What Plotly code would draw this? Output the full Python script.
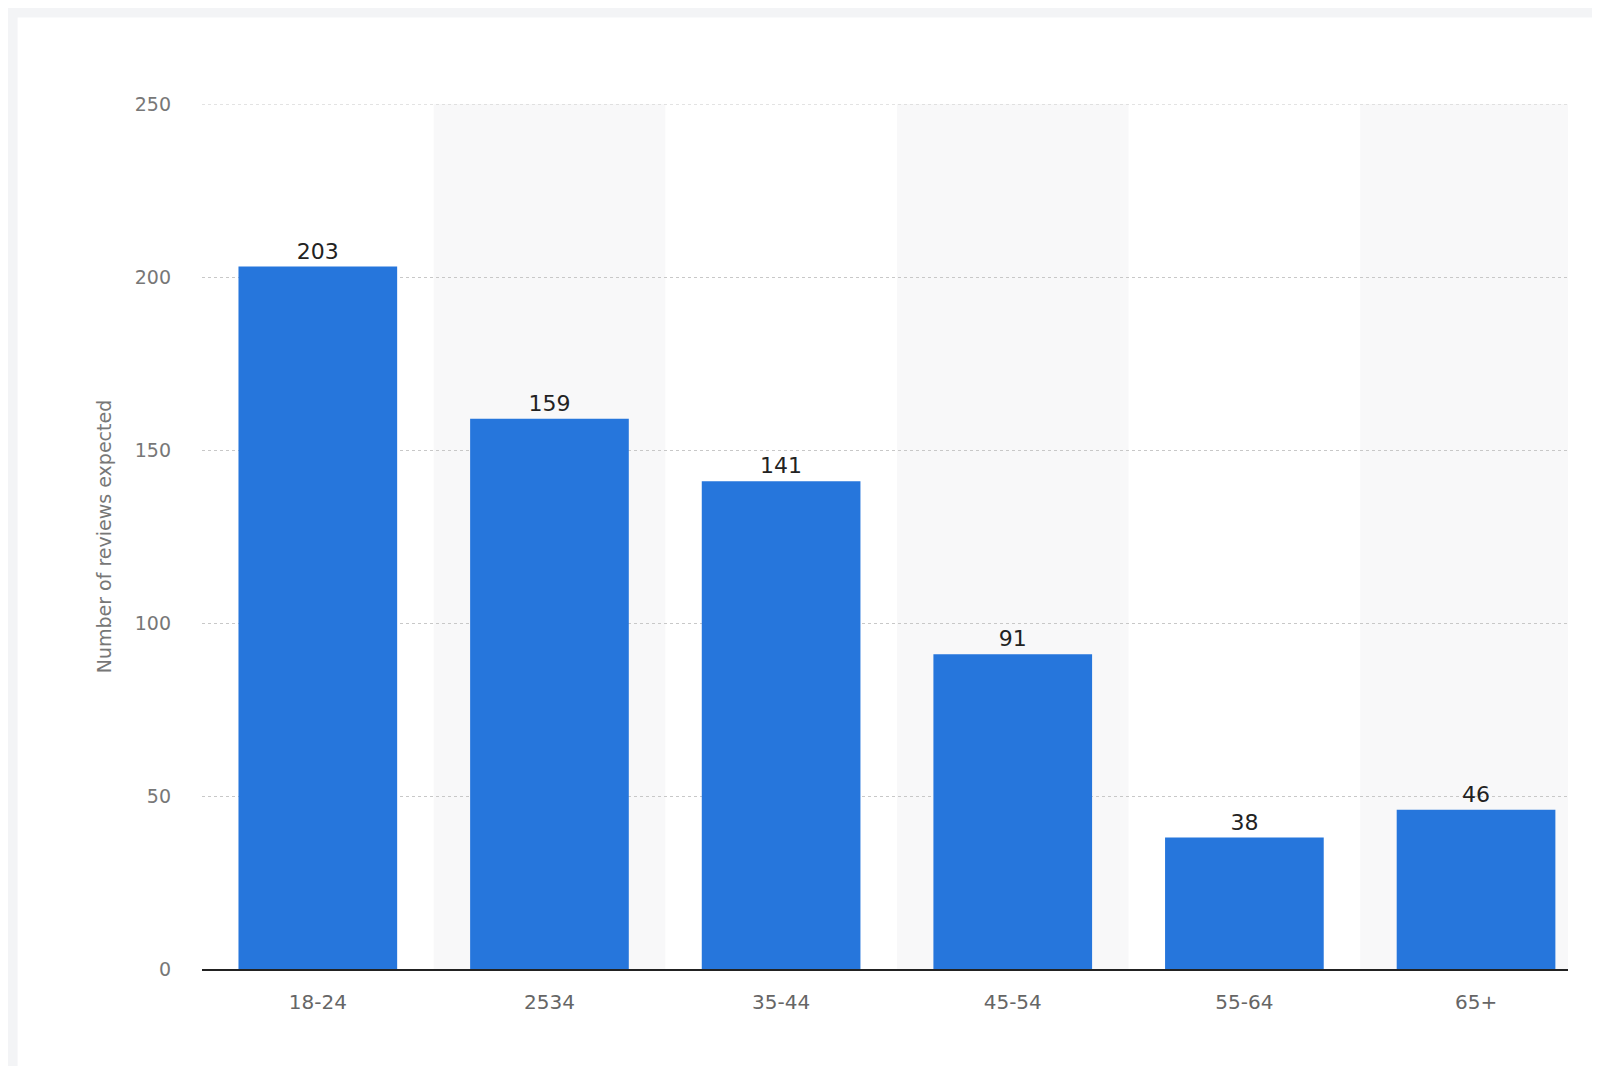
import plotly.graph_objects as go

categories = ["18-24", "2534", "35-44", "45-54", "55-64", "65+"]
values = [203, 159, 141, 91, 38, 46]
y_ticks = [0, 50, 100, 150, 200, 250]

fig = go.Figure()
fig.add_trace(go.Bar(
    x=list(range(len(categories))), y=values, width=0.685,
    marker=dict(color="#2676dc", line=dict(width=0)),
    text=[str(v) for v in values], textposition="outside",
    textfont=dict(size=22, color="#222", family="DejaVu Sans"),
    cliponaxis=False,
))
shapes = [dict(type="rect", xref="paper", yref="paper", x0=-0.135, x1=1.05, y0=-0.12, y1=1.1,
               fillcolor="white", line=dict(width=0), layer="below")]
for i in range(1, len(categories), 2):
    shapes.append(dict(type="rect", xref="x", yref="y", x0=i - 0.5, x1=i + 0.5, y0=0, y1=250,
                       fillcolor="#f8f8f9", line=dict(width=0), layer="below"))
shapes.append(dict(type="line", xref="paper", yref="y", x0=0, x1=1, y0=250, y1=250,
                   line=dict(color="#c8c8c8", width=1, dash="dot")))
fig.update_layout(
    width=1584, height=1058, paper_bgcolor="#f3f4f6", plot_bgcolor="rgba(0,0,0,0)",
    margin=dict(l=194, r=24, t=96, b=97), showlegend=False, shapes=shapes,
    font=dict(family="DejaVu Sans"),
    xaxis=dict(range=[-0.5, 5.397], tickvals=list(range(len(categories))), ticktext=categories,
               tickfont=dict(size=20, color="#666"), showgrid=False, showline=True,
               linecolor="#222", linewidth=2, ticks="", ticklen=0, ticklabelstandoff=14),
    yaxis=dict(range=[0, 250], tickvals=y_ticks, tickfont=dict(size=19, color="#777"),
               showgrid=True, gridcolor="#c8c8c8", griddash="dot", zeroline=False,
               ticklabelstandoff=30,
               title=dict(text="Number of reviews expected", font=dict(size=19, color="#777"),
                          standoff=18)),
)
fig.write_html("out.html")
